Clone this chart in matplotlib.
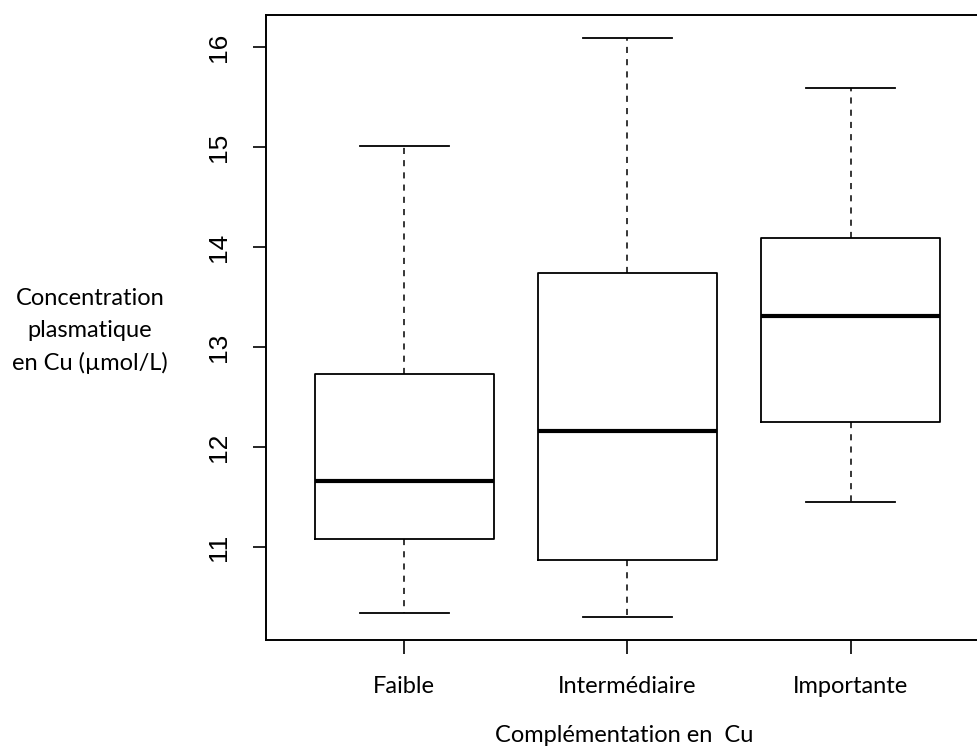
import matplotlib
matplotlib.use("Agg")
import matplotlib.pyplot as plt

# Values
groups = ["Faible", "Intermédiaire", "Importante"]
whisker_low = [10.34, 10.30, 11.45]
q1 = [11.08, 10.87, 12.25]
median = [11.66, 12.16, 13.31]
q3 = [12.73, 13.74, 14.09]
whisker_high = [15.01, 16.09, 15.59]
yticks = [11, 12, 13, 14, 15, 16]

label_font = ["Lato", "DejaVu Sans"]

fig = plt.figure(figsize=(9.78, 7.47), dpi=100)
# plot region runs a little past the right edge, like the cropped original
ax = fig.add_axes([266 / 978, 107 / 747, 723 / 978, 625 / 747])

stats = [
    {"whislo": lo, "q1": a, "med": m, "q3": b, "whishi": hi, "label": g, "fliers": []}
    for g, lo, a, m, b, hi in zip(groups, whisker_low, q1, median, q3, whisker_high)
]
ax.bxp(
    stats,
    positions=[1, 2, 3],
    widths=0.8,
    showfliers=False,
    boxprops=dict(color="black", linewidth=1.3),
    medianprops=dict(color="black", linewidth=3.0, solid_capstyle="butt"),
    whiskerprops=dict(color="black", linewidth=1.1, linestyle=(0, (4, 4))),
    capprops=dict(color="black", linewidth=1.3),
    capwidths=0.4,
)

ax.set_xlim(0.38, 3.62)
ax.set_ylim(10.07, 16.32)

ax.set_yticks(yticks)
ax.set_yticklabels([str(t) for t in yticks], rotation=90, va="center",
                   fontsize=19, family=["Liberation Sans", "DejaVu Sans"])
ax.set_xticks([1, 2, 3])
ax.set_xticklabels(groups, fontsize=17, family=label_font)
ax.tick_params(axis="y", length=9.5, width=1.2, pad=16)
ax.tick_params(axis="x", length=10, width=1.2, pad=16)

for side in ["left", "bottom", "top", "right"]:
    ax.spines[side].set_linewidth(1.4)

fig.text(624 / 978, 5 / 747, "Complémentation en  Cu", ha="center", va="baseline",
         fontsize=17, family=label_font)
fig.text(90 / 978, 416 / 747, "Concentration\nplasmatique\nen Cu (µmol/L)",
         ha="center", va="center", fontsize=17, family=label_font, linespacing=1.6)

fig.savefig("out.png", dpi=100)
